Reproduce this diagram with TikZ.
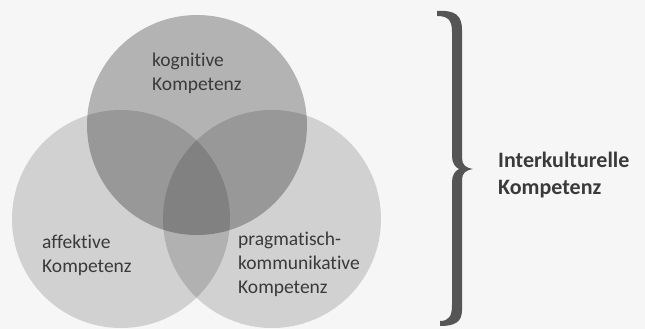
\documentclass[tikz,border=0pt]{standalone}
\usepackage{fontspec}
\setmainfont{Carlito}[Ligatures=NoCommon]
\definecolor{txt}{RGB}{58,58,58}
\definecolor{brace}{RGB}{85,85,85}
\definecolor{bg}{RGB}{246,246,246}
\begin{document}
\begin{tikzpicture}[x=1pt,y=-1pt,
  lowcirc/.style={fill=black,fill opacity=0.15},
  topcirc/.style={fill=black,fill opacity=0.27},
  lbl/.style={inner sep=0pt,align=left,anchor=base west,text=txt,font=\fontsize{19.5}{24}\selectfont},
  biglbl/.style={inner sep=0pt,align=left,anchor=base west,text=txt,font=\fontsize{22}{27}\selectfont\bfseries}]
\fill[bg] (0,0) rectangle (645,329);
\useasboundingbox (0,0) rectangle (645,329);
\fill[lowcirc] (121,219) circle[radius=109];
\fill[lowcirc] (272,219) circle[radius=109];
\fill[topcirc] (197,125) circle[radius=110];
\node[lbl] (kog) at (152,90) {kognitive\\Kompetenz};
\node[lbl] (aff) at (42,272) {affektive\\Kompetenz};
\node[lbl] (prag) at (238,293) {pragmatisch-\\kommunikative\\Kompetenz};
\node[biglbl] (ik) at (498,194) {Interkulturelle\\Kompetenz};
\fill[brace] (437,11) .. controls (455,10) and (462,15) .. (462,30)
  -- (462,158) .. controls (462,165) and (466,168) .. (473,169)
  .. controls (466,170) and (462,173) .. (462,180)
  -- (462,310) .. controls (462,322) and (455,326) .. (440,326)
  -- (440,321) .. controls (449,321) and (452,316) .. (452,305)
  -- (452,182) .. controls (452,175) and (455,171) .. (459,169)
  .. controls (455,167) and (452,163) .. (452,156)
  -- (452,32) .. controls (452,20) and (448,16) .. (437,16) -- cycle;
\end{tikzpicture}
\end{document}
